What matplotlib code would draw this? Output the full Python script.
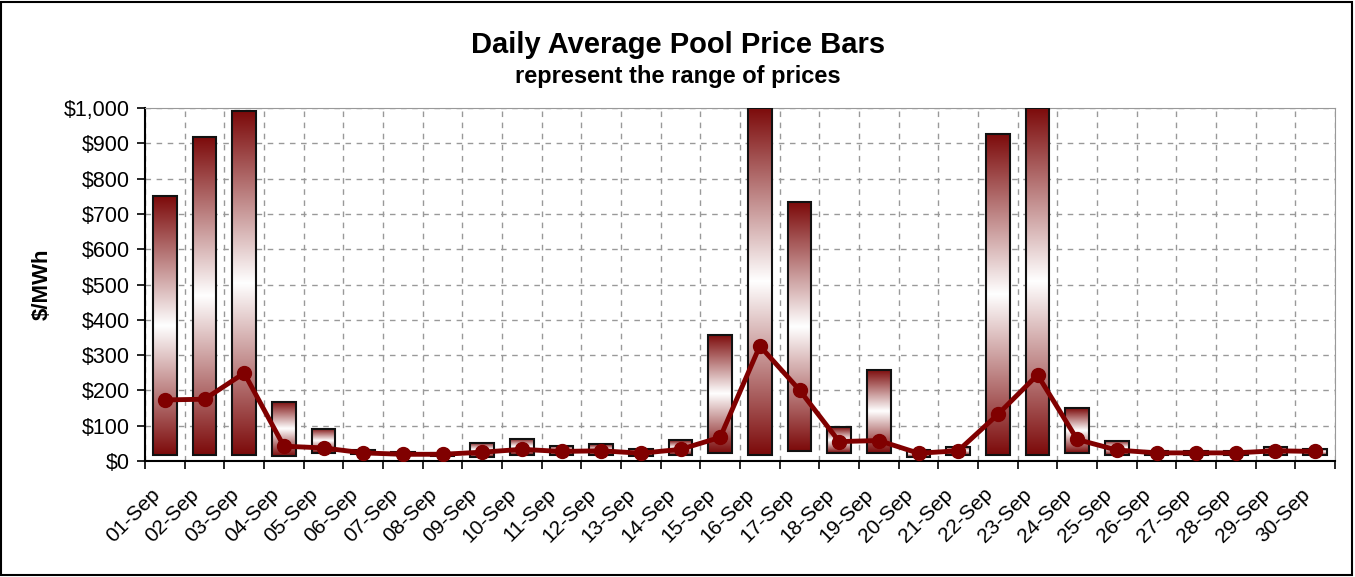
import matplotlib
matplotlib.use("Agg")
import matplotlib.pyplot as plt
import numpy as np
from matplotlib.colors import LinearSegmentedColormap
from matplotlib.patches import Rectangle
from matplotlib.transforms import ScaledTranslation

days = ["01-Sep", "02-Sep", "03-Sep", "04-Sep", "05-Sep", "06-Sep", "07-Sep", "08-Sep",
        "09-Sep", "10-Sep", "11-Sep", "12-Sep", "13-Sep", "14-Sep", "15-Sep", "16-Sep",
        "17-Sep", "18-Sep", "19-Sep", "20-Sep", "21-Sep", "22-Sep", "23-Sep", "24-Sep",
        "25-Sep", "26-Sep", "27-Sep", "28-Sep", "29-Sep", "30-Sep"]
low = [17, 17, 17, 15, 22, 20, 18, 15, 12, 17, 16, 16, 14, 17, 22, 16,
       29, 24, 22, 12, 16, 16, 16, 24, 16, 18, 18, 18, 16, 16]
high = [750, 918, 991, 168, 90, 30, 26, 22, 52, 63, 42, 47, 34, 59, 357, 1000,
        734, 97, 258, 30, 41, 926, 1000, 149, 58, 28, 28, 28, 41, 34]
avg = [173, 175, 249, 42, 37, 23, 19, 19, 25, 33, 27, 29, 22, 33, 67, 326,
       201, 55, 58, 22, 29, 132, 244, 61, 31, 23, 23, 23, 29, 27]
yticks = [0, 100, 200, 300, 400, 500, 600, 700, 800, 900, 1000]
ytick_labels = ["$0", "$100", "$200", "$300", "$400", "$500", "$600", "$700", "$800", "$900", "$1,000"]

plt.rcParams['font.family'] = ['Liberation Sans', 'DejaVu Sans']

fig = plt.figure(figsize=(13.55, 5.77), dpi=100)
ax = fig.add_axes([145/1355, 1-461/577, (1335-145)/1355, (461-108)/577])

dark = "#7c0a0a"
cmap = LinearSegmentedColormap.from_list("g", [dark, "#ffffff", dark])
grad = np.linspace(0, 1, 256).reshape(-1, 1)

n = len(days)
x = np.arange(n)
w = 0.6
for i in range(n):
    ax.imshow(grad, cmap=cmap, aspect='auto', origin='lower',
              extent=(x[i]-w/2, x[i]+w/2, low[i], high[i]), zorder=2, interpolation='bilinear')
    ax.add_patch(Rectangle((x[i]-w/2, low[i]), w, high[i]-low[i], fill=False,
                           edgecolor="#111111", linewidth=1.5, zorder=3))

ax.plot(x, avg, color="#800000", linewidth=3.5, marker='o', markersize=10,
        markerfacecolor="#800000", markeredgecolor="#800000", zorder=4)

ax.set_xlim(-0.5, n-0.5)
ax.set_ylim(0, 1000)
ax.set_yticks(yticks)
ax.set_yticklabels(ytick_labels, fontsize=15.5)
ax.set_xticks(x)
ax.set_xticklabels(days, rotation=45, ha='right', rotation_mode='anchor', fontsize=15)
ax.tick_params(axis='x', length=0, pad=17)
offset = ScaledTranslation(-15/100, 0, fig.dpi_scale_trans)
for lbl in ax.get_xticklabels():
    lbl.set_transform(lbl.get_transform() + offset)
ax.set_xticks(np.arange(n+1)-0.5, minor=True)
ax.tick_params(axis='x', which='minor', length=6, width=1.2, direction='out', color='black')
ax.tick_params(axis='y', length=6, width=1.2, direction='out', color='black', pad=5)

ax.grid(True, axis='y', which='major', linestyle=(0, (4, 4)), color='#999999', linewidth=1, zorder=0)
ax.grid(True, axis='x', which='minor', linestyle=(0, (4, 4)), color='#999999', linewidth=1, zorder=0)
ax.grid(False, axis='x', which='major')
ax.set_axisbelow(True)

ax.spines['left'].set_color('black')
ax.spines['left'].set_linewidth(1.5)
ax.spines['bottom'].set_color('black')
ax.spines['bottom'].set_linewidth(1.5)
ax.spines['top'].set_color('#999999')
ax.spines['right'].set_color('#999999')

ax.set_ylabel("$/MWh", fontsize=16, fontweight='bold', labelpad=8)

fig.text(678/1355, 1-45/577, "Daily Average Pool Price Bars", ha='center', va='center',
         fontsize=21, fontweight='bold')
fig.text(678/1355, 1-77/577, "represent the range of prices", ha='center', va='center',
         fontsize=17, fontweight='bold')

fig.patches.append(Rectangle((0.001, 0.003), 0.997, 0.994, transform=fig.transFigure,
                             fill=False, edgecolor='black', linewidth=1.5))

fig.savefig("out.png", dpi=100)
